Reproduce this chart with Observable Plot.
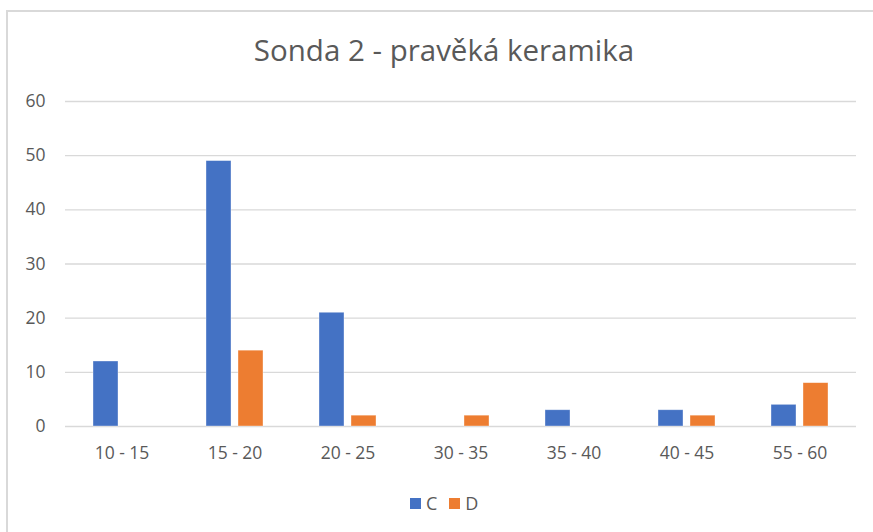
<!DOCTYPE html>
<html>
<head>
<meta charset="utf-8">
<script src="https://cdn.jsdelivr.net/npm/d3@7"></script>
<script src="https://cdn.jsdelivr.net/npm/@observablehq/plot@0.6"></script>
<style>
  html, body { margin: 0; padding: 0; background: #fff; }
  #wrap { position: relative; width: 873px; height: 532px; overflow: hidden; font-family: "Open Sans", "Noto Sans", sans-serif; }
  #frame { position: absolute; left: 6px; top: 10px; width: 900px; height: 600px; border-left: 2px solid #d9d9d9; border-top: 2px solid #d9d9d9; box-sizing: border-box; }
  #title { position: absolute; left: 0; width: 888px; top: 29px; text-align: center; font-size: 29.5px; color: #595959; }
  #chart { position: absolute; left: 0; top: 0; }
  #legend { position: absolute; top: 490px; left: 410px; font-size: 18px; line-height: 26px; color: #595959; display: flex; align-items: center; }
  .sw { display: inline-block; width: 11px; height: 11px; margin-right: 5px; }
</style>
</head>
<body>
<div id="wrap">
  <div id="frame"></div>
  <div id="chart"></div>
  <div id="title">Sonda 2 - pravěká keramika</div>
  <div id="legend">
    <span class="sw" style="background:#4472c4"></span><span style="margin-right:12px">C</span>
    <span class="sw" style="background:#ed7d31"></span><span>D</span>
  </div>
</div>
<script>
const categories = ["10 - 15", "15 - 20", "20 - 25", "30 - 35", "35 - 40", "40 - 45", "55 - 60"];
const seriesNames = ["C", "D"];
const valuesC = [12, 49, 21, 0, 3, 3, 4];
const valuesD = [0, 14, 2, 2, 0, 2, 8];
const yTicks = [0, 10, 20, 30, 40, 50, 60];
const colors = ["#4472c4", "#ed7d31"];

const data = [];
categories.forEach((c, i) => {
  data.push({cat: c, series: "C", value: valuesC[i]});
  data.push({cat: c, series: "D", value: valuesD[i]});
});
const bars = data.filter(d => d.value > 0);

const chart = Plot.plot({
  width: 873,
  height: 532,
  marginTop: 101,
  marginBottom: 106,
  marginLeft: 64,
  marginRight: 17,
  style: {fontFamily: "'Open Sans', 'Noto Sans', sans-serif", fontSize: "17.5px", color: "#595959", background: "transparent"},
  fx: {domain: categories, padding: 0, label: null},
  x: {domain: seriesNames, paddingInner: 0.22, paddingOuter: 0.875, axis: null},
  y: {domain: [0, 60], label: null},
  color: {domain: seriesNames, range: colors},
  marks: [
    Plot.ruleY(yTicks, {stroke: "#d9d9d9", strokeWidth: 1.3}),
    Plot.barY(bars, {fx: "cat", x: "series", y: "value", fill: "series", stroke: "#ffffff", strokeOpacity: 0.5, strokeWidth: 0.7}),
    Plot.axisY({ticks: yTicks, tickSize: 0, tickPadding: 20, fontSize: 17.5, fill: "#595959", label: null}),
    Plot.axisFx({anchor: "bottom", tickSize: 0, tickPadding: 20, fontSize: 17.5, fill: "#595959", label: null})
  ]
});
document.getElementById("chart").appendChild(chart);
</script>
</body>
</html>
